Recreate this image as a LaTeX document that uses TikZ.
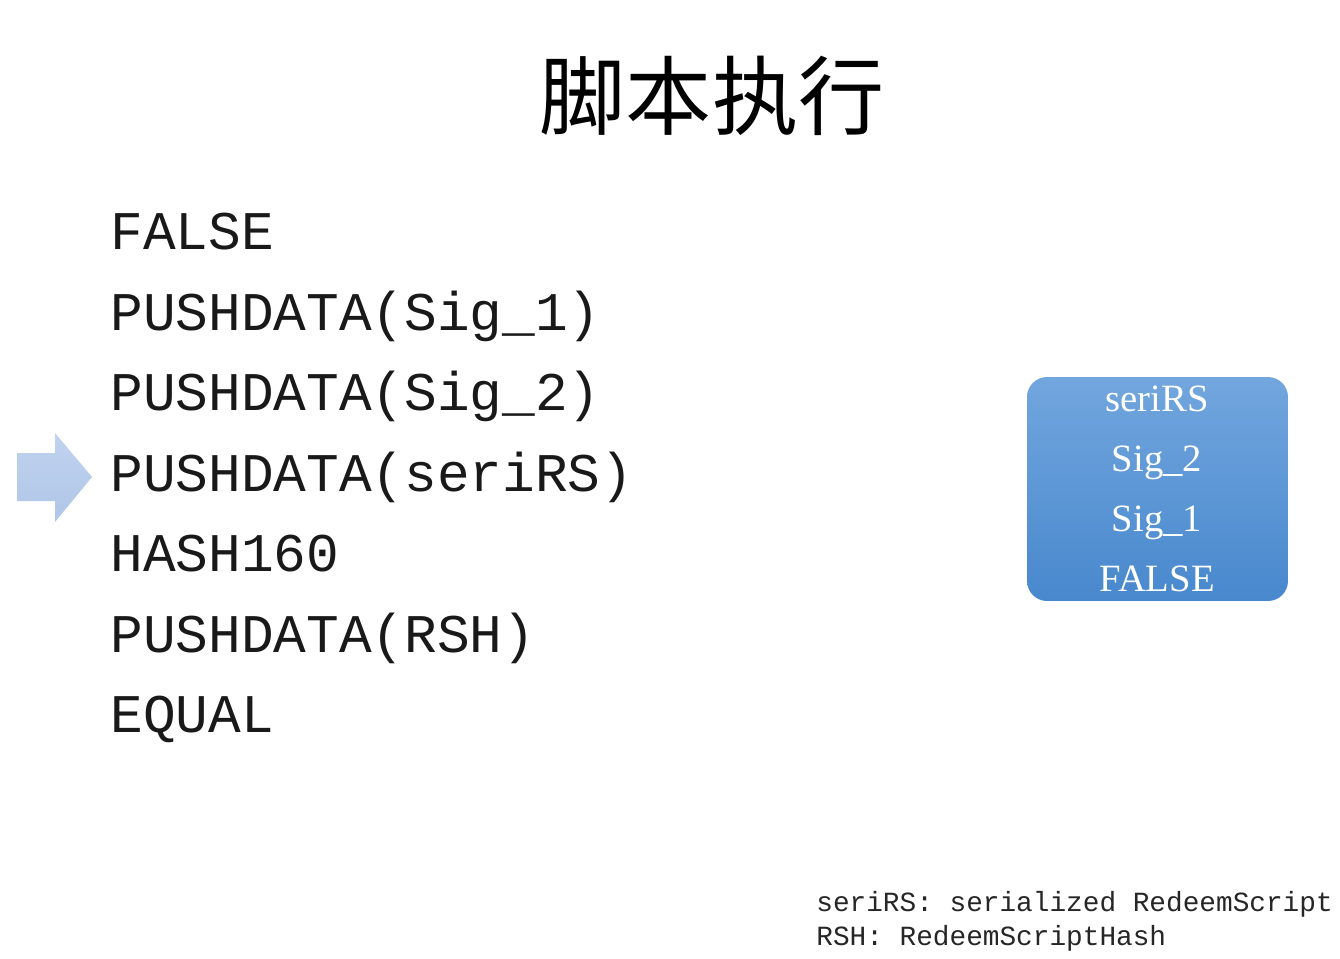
\documentclass[tikz,border=0pt]{standalone}
\usepackage{fontspec}
\setmainfont{Liberation Serif}
\setmonofont{Liberation Mono}
\newfontfamily\cjk{Noto Sans CJK SC}
\usetikzlibrary{positioning}

\definecolor{arrowtop}{RGB}{192,210,238}
\definecolor{arrowbot}{RGB}{176,198,232}
\definecolor{stacktop}{RGB}{114,166,222}
\definecolor{stackbot}{RGB}{72,136,205}

\begin{document}
\begin{tikzpicture}[x=0.02cm,y=-0.02cm]
	% Define styles
	\tikzstyle{title} = [font=\cjk\fontsize{49}{49}\selectfont]
	\tikzstyle{code} = [anchor=base west, inner sep=0pt, text=black!90,
	font=\ttfamily\fontsize{31}{31}\selectfont]
	\tikzstyle{stackbox} = [rectangle, rounded corners=0.4cm, draw=none,
	minimum width=5.22cm, minimum height=4.48cm, top color=stacktop, bottom color=stackbot]
	\tikzstyle{stackitem} = [anchor=base, inner sep=0pt, text=white,
	font=\fontsize{22}{22}\selectfont]
	\tikzstyle{note} = [anchor=base west, inner sep=0pt, text=black!85,
	font=\ttfamily\fontsize{15.8}{16}\selectfont]
	
	\useasboundingbox (0,0) rectangle (1340,958);
	
	% Title
	\node [title] (heading) at (712,96) {脚本执行};
	
	% Script lines
	\node [code] (false) at (110,249) {FALSE};
	\node [code] (sigone) at (110,330) {PUSHDATA(Sig\_1)};
	\node [code] (sigtwo) at (110,410) {PUSHDATA(Sig\_2)};
	\node [code] (serirs) at (110,491) {PUSHDATA(seriRS)};
	\node [code] (hash) at (110,571) {HASH160};
	\node [code] (rsh) at (110,652) {PUSHDATA(RSH)};
	\node [code] (equal) at (110,732) {EQUAL};
	
	% Pointer to current line
	\shade [top color=arrowtop, bottom color=arrowbot]
	(17,453) -- (55,453) -- (55,433) -- (92,477) -- (55,522) -- (55,501) -- (17,501) -- cycle;
	
	% Stack
	\node [stackbox] (stack) at (1157.5,489) {};
	\node [stackitem] (top) at (1157,411) {seriRS};
	\node [stackitem] (second) at (1157,471) {Sig\_2};
	\node [stackitem] (third) at (1157,531) {Sig\_1};
	\node [stackitem] (bottom) at (1157,591) {FALSE};
	
	% Legend
	\node [note] (noteserirs) at (816,911) {seriRS: serialized RedeemScript};
	\node [note] (notersh) at (816,945) {RSH: RedeemScriptHash};
\end{tikzpicture}
\end{document}
